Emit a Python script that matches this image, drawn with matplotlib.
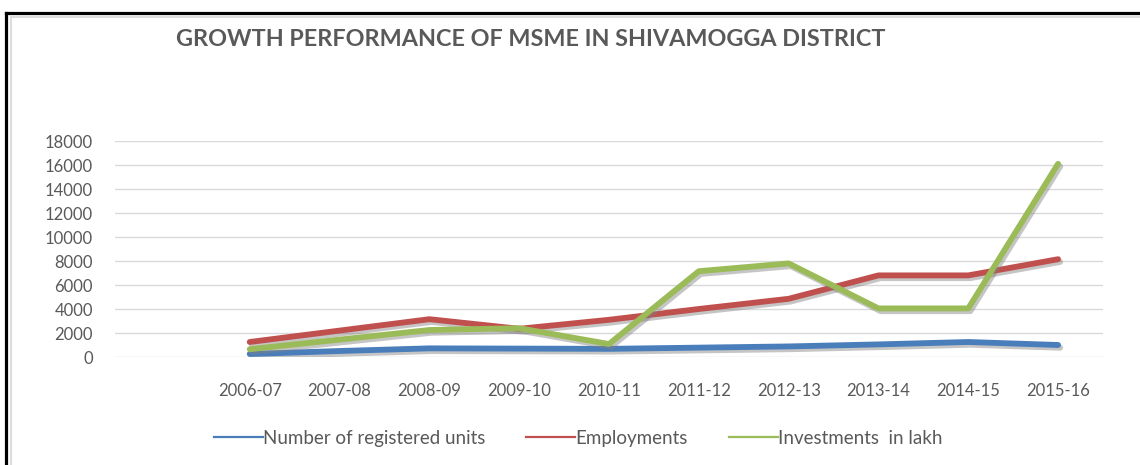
import matplotlib.pyplot as plt
import matplotlib.patheffects as pe
from matplotlib.lines import Line2D

# 데이터
years = ['2006-07', '2007-08', '2008-09', '2009-10', '2010-11',
         '2011-12', '2012-13', '2013-14', '2014-15', '2015-16']
units = [250, 500, 720, 700, 680, 780, 880, 1050, 1250, 1000]
employments = [1250, 2200, 3150, 2350, 3100, 4000, 4850, 6800, 6800, 8150]
investments = [650, 1450, 2250, 2400, 1080, 7150, 7800, 4050, 4050, 16100]
yticks = [0, 2000, 4000, 6000, 8000, 10000, 12000, 14000, 16000, 18000]
names = ['Number of registered units', 'Employments', 'Investments  in lakh']
colors = ['#4a7ebb', '#c0504d', '#9bbb59']

plt.rcParams['font.family'] = ['Lato', 'DejaVu Sans']
grey = '#595959'

fig = plt.figure(figsize=(11.4, 4.65), dpi=100)
ax = fig.add_axes([115 / 1140, 1 - 357 / 465, 988 / 1140, 216 / 465])

x = list(range(len(years)))
shadow = [pe.SimpleLineShadow(offset=(1.5, -2), shadow_color='#808080', alpha=0.45),
          pe.Normal()]
for ys, c, n in zip([units, employments, investments], colors, names):
    ax.plot(x, ys, color=c, lw=4.2, solid_capstyle='round',
            solid_joinstyle='round', path_effects=shadow, label=n)

ax.set_xlim(-1.5, 9.5)
ax.set_ylim(0, 18000)
ax.set_yticks(yticks)
ax.set_xticks(x)
ax.set_xticklabels(years)
ax.grid(axis='y', color='#d9d9d9', lw=1)
ax.set_axisbelow(True)
for s in ax.spines.values():
    s.set_visible(False)
ax.tick_params(length=0, colors=grey, labelsize=12)
ax.tick_params(axis='y', pad=16)
ax.tick_params(axis='x', pad=19)

fig.text(176 / 1140, 1 - 40 / 465, 'GROWTH PERFORMANCE OF MSME IN SHIVAMOGGA DISTRICT',
         fontsize=16.8, fontweight='bold', color=grey, va='center', ha='left')

handles = [Line2D([], [], color=c, lw=1.6) for c in colors]
fig.legend(handles, names, loc='center left', bbox_to_anchor=(214 / 1140, 1 - 438 / 465),
           ncol=3, frameon=False, borderpad=0, borderaxespad=0,
           handlelength=2.6, handletextpad=0.0, columnspacing=2.2,
           fontsize=13.5, labelcolor=grey)

# 테두리
fig.add_artist(Line2D([0.0057, 1.0], [0.973, 0.973], color='black', lw=2.3))
fig.add_artist(Line2D([0.0057, 0.0057], [0.0, 0.973], color='black', lw=2.3))
fig.add_artist(Line2D([0.0096, 1.0], [0.9645, 0.9645], color='#dddddd', lw=1.5))
fig.add_artist(Line2D([0.0096, 0.0096], [0.0, 0.9645], color='#dddddd', lw=1.5))

fig.savefig('out.png', dpi=100)
